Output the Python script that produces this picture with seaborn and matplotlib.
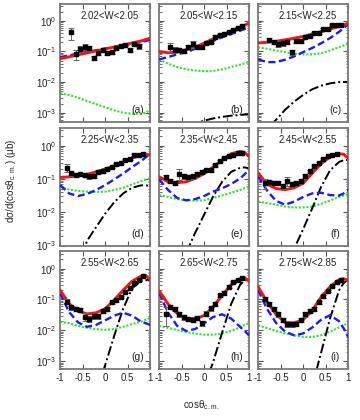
import numpy as np
import pandas as pd
import seaborn as sns
import matplotlib.pyplot as plt
from matplotlib.ticker import LogLocator, NullFormatter

# W bins and panel tags
W_LABELS = ["2.02<W<2.05", "2.05<W<2.15", "2.15<W<2.25",
            "2.25<W<2.35", "2.35<W<2.45", "2.45<W<2.55",
            "2.55<W<2.65", "2.65<W<2.75", "2.75<W<2.85"]
TAGS = ["(a)", "(b)", "(c)", "(d)", "(e)", "(f)", "(g)", "(h)", "(i)"]

COS_GRID = [-1.0, -0.8, -0.6, -0.4, -0.2, 0.0, 0.2, 0.4, 0.6, 0.8, 0.9, 1.0]

# model curves (ub): red = full, blue = dashed, green = dotted, black = dash-dot
red_a = [0.058, 0.067, 0.078, 0.09, 0.105, 0.12, 0.14, 0.16, 0.19, 0.22, 0.245, 0.27]
blue_a = [0.065, 0.075, 0.085, 0.097, 0.11, 0.125, 0.14, 0.16, 0.18, 0.205, 0.22, 0.24]
green_a = [0.0043, 0.0038, 0.0031, 0.0024, 0.0019, 0.0015, 0.0012, 0.001, 0.00092, 0.00092, 0.001, 0.0012]
black_a = [2e-6, 4e-6, 8e-6, 1.5e-5, 2.5e-5, 4e-5, 6e-5, 8e-5, 1e-4, 1.1e-4, 1.2e-4, 1.2e-4]

red_b = [0.10, 0.091, 0.095, 0.113, 0.138, 0.186, 0.26, 0.34, 0.45, 0.61, 0.72, 0.84]
blue_b = [0.055, 0.066, 0.08, 0.095, 0.122, 0.164, 0.22, 0.29, 0.37, 0.48, 0.54, 0.61]
green_b = [0.055, 0.04, 0.031, 0.026, 0.024, 0.0226, 0.023, 0.026, 0.031, 0.037, 0.041, 0.045]
black_b = [1e-4, 1.6e-4, 2.5e-4, 3.5e-4, 4.5e-4, 5.5e-4, 6.5e-4, 7.3e-4, 8e-4, 8.5e-4, 8.7e-4, 8.8e-4]

red_c = [0.19, 0.2, 0.215, 0.24, 0.27, 0.31, 0.37, 0.44, 0.54, 0.66, 0.74, 0.82]
blue_c = [0.055, 0.045, 0.045, 0.054, 0.069, 0.095, 0.13, 0.185, 0.275, 0.44, 0.58, 0.78]
green_c = [0.138, 0.122, 0.108, 0.095, 0.084, 0.08, 0.08, 0.088, 0.108, 0.138, 0.157, 0.177]
black_c = [1.5e-4, 3e-4, 5.9e-4, 1.25e-3, 2.3e-3, 3.8e-3, 5.8e-3, 7.6e-3, 9.1e-3, 0.01, 0.0101, 0.0102]

red_d = [0.112, 0.117, 0.126, 0.14, 0.165, 0.2, 0.25, 0.33, 0.43, 0.52, 0.54, 0.55]
blue_d = [0.066, 0.037, 0.031, 0.036, 0.047, 0.066, 0.098, 0.147, 0.23, 0.35, 0.45, 0.58]
green_d = [0.059, 0.049, 0.044, 0.042, 0.041, 0.042, 0.047, 0.055, 0.069, 0.087, 0.096, 0.105]
black_d = [5e-6, 4e-5, 2.5e-4, 1.4e-3, 3.6e-3, 9.1e-3, 0.02, 0.037, 0.055, 0.065, 0.065, 0.062]

red_e = [0.117, 0.083, 0.078, 0.083, 0.105, 0.147, 0.23, 0.38, 0.58, 0.68, 0.63, 0.48]
blue_e = [0.098, 0.047, 0.027, 0.023, 0.025, 0.031, 0.042, 0.053, 0.071, 0.105, 0.14, 0.19]
green_e = [0.033, 0.029, 0.025, 0.023, 0.0225, 0.023, 0.027, 0.032, 0.039, 0.047, 0.053, 0.059]
black_e = [2e-6, 2e-5, 1e-4, 6e-4, 2.4e-3, 8.5e-3, 0.03, 0.083, 0.165, 0.22, 0.225, 0.21]

red_f = [0.154, 0.07, 0.052, 0.048, 0.055, 0.075, 0.15, 0.29, 0.47, 0.58, 0.56, 0.43]
blue_f = [0.12, 0.045, 0.022, 0.017, 0.021, 0.029, 0.037, 0.039, 0.033, 0.032, 0.037, 0.047]
green_f = [0.021, 0.019, 0.017, 0.015, 0.014, 0.014, 0.015, 0.018, 0.023, 0.029, 0.032, 0.036]
black_f = [5e-6, 2e-5, 6e-5, 2e-4, 8e-4, 3.1e-3, 0.013, 0.059, 0.185, 0.33, 0.37, 0.38]

red_g = [0.2, 0.073, 0.042, 0.034, 0.037, 0.05, 0.095, 0.2, 0.39, 0.57, 0.6, 0.44]
blue_g = [0.158, 0.039, 0.018, 0.013, 0.015, 0.021, 0.030, 0.037, 0.03, 0.019, 0.017, 0.015]
green_g = [0.019, 0.017, 0.014, 0.012, 0.011, 0.0103, 0.011, 0.013, 0.016, 0.019, 0.022, 0.025]
black_g = [1e-7, 1e-6, 5e-6, 2e-5, 1e-4, 7.4e-4, 6.5e-3, 0.05, 0.23, 0.4, 0.42, 0.44]

red_h = [0.19, 0.071, 0.035, 0.024, 0.0235, 0.030, 0.058, 0.136, 0.3, 0.46, 0.51, 0.38]
blue_h = [0.163, 0.037, 0.014, 0.0095, 0.011, 0.017, 0.027, 0.033, 0.024, 0.013, 0.0095, 0.0069]
green_h = [0.014, 0.012, 0.0102, 0.0088, 0.0078, 0.0072, 0.0072, 0.0079, 0.0095, 0.0125, 0.0148, 0.017]
black_h = [1e-7, 5e-7, 2e-6, 8e-6, 3e-5, 1.5e-4, 9.3e-4, 8.5e-3, 0.071, 0.3, 0.41, 0.46]

red_i = [0.26, 0.081, 0.033, 0.018, 0.0173, 0.022, 0.043, 0.12, 0.26, 0.44, 0.47, 0.41]
blue_i = [0.2, 0.049, 0.0173, 0.0091, 0.0069, 0.0079, 0.0123, 0.022, 0.031, 0.0196, 0.0117, 0.0061]
green_i = [0.0144, 0.0118, 0.0095, 0.008, 0.0069, 0.0061, 0.0061, 0.0069, 0.0091, 0.0123, 0.0145, 0.0173]
black_i = [1e-8, 1e-7, 5e-7, 3e-6, 2e-5, 1e-5, 1.5e-4, 1.9e-3, 0.025, 0.2, 0.34, 0.44]

# measured points: bin centres, cross sections and errors
BINS = [-0.85, -0.75, -0.65, -0.55, -0.45, -0.35, -0.25, -0.15, -0.05,
        0.05, 0.15, 0.25, 0.35, 0.45, 0.55, 0.65, 0.75, 0.85]

x_a = BINS[1:17]
y_a = [0.42, 0.084, 0.122, 0.145, 0.128, 0.061, 0.091, 0.108, 0.091, 0.095, 0.131, 0.156, 0.168, 0.113, 0.177, 0.149]
e_a = [0.18, 0.03, 0.025, 0.03, 0.025, 0.01, 0.015, 0.015, 0.012, 0.012, 0.015, 0.015, 0.015, 0.015, 0.02, 0.025]

x_b = BINS[1:]
y_b = [0.145, 0.116, 0.113, 0.103, 0.138, 0.177, 0.138, 0.145, 0.186, 0.21, 0.305, 0.345, 0.37, 0.44, 0.5, 0.58, 0.67]
e_b = [0.05, 0.02, 0.015, 0.015, 0.02, 0.05, 0.02, 0.02, 0.02, 0.02, 0.03, 0.03, 0.03, 0.03, 0.04, 0.04, 0.05]

x_c = BINS[1:]
y_c = [0.24, 0.20, 0.177, 0.186, 0.2, 0.095, 0.226, 0.215, 0.305, 0.33, 0.40, 0.40, 0.54, 0.54, 0.74, 0.74, 0.74]
e_c = [0.03, 0.03, 0.04, 0.03, 0.03, 0.02, 0.03, 0.03, 0.03, 0.03, 0.04, 0.04, 0.04, 0.04, 0.05, 0.05, 0.05]

x_d = BINS
y_d = [0.222, 0.148, 0.131, 0.14, 0.131, 0.123, 0.126, 0.165, 0.177, 0.207, 0.232, 0.28, 0.305, 0.37, 0.41, 0.52, 0.55, 0.58]
e_d = [0.06, 0.02, 0.015, 0.015, 0.015, 0.02, 0.02, 0.02, 0.02, 0.02, 0.02, 0.025, 0.025, 0.03, 0.03, 0.04, 0.04, 0.04]

x_e = BINS
y_e = [0.117, 0.089, 0.078, 0.147, 0.123, 0.112, 0.123, 0.147, 0.165, 0.185, 0.185, 0.26, 0.35, 0.43, 0.49, 0.55, 0.6, 0.6]
e_e = [0.015, 0.012, 0.01, 0.055, 0.02, 0.02, 0.02, 0.02, 0.02, 0.02, 0.02, 0.025, 0.03, 0.03, 0.04, 0.04, 0.04, 0.04]

x_f = BINS[:17]
y_f = [0.074, 0.081, 0.078, 0.078, 0.062, 0.087, 0.069, 0.078, 0.09, 0.123, 0.17, 0.24, 0.305, 0.40, 0.48, 0.54, 0.565]
e_f = [0.025, 0.01, 0.01, 0.01, 0.01, 0.025, 0.01, 0.01, 0.012, 0.015, 0.015, 0.02, 0.025, 0.03, 0.03, 0.04, 0.04]

x_g = BINS
y_g = [0.085, 0.055, 0.049, 0.046, 0.028, 0.024, 0.029, 0.029, 0.043, 0.049, 0.081, 0.093, 0.12, 0.175, 0.24, 0.33, 0.43, 0.58]
e_g = [0.015, 0.008, 0.007, 0.006, 0.008, 0.005, 0.005, 0.005, 0.006, 0.006, 0.008, 0.01, 0.012, 0.015, 0.02, 0.025, 0.03, 0.04]

x_h = BINS
y_h = [0.035, 0.058, 0.049, 0.033, 0.027, 0.0235, 0.0224, 0.025, 0.017, 0.035, 0.051, 0.071, 0.136, 0.163, 0.26, 0.36, 0.43, 0.49]
e_h = [0.021, 0.01, 0.008, 0.006, 0.005, 0.004, 0.004, 0.004, 0.003, 0.006, 0.008, 0.01, 0.02, 0.02, 0.03, 0.03, 0.04, 0.04]

x_i = BINS
y_i = [0.105, 0.071, 0.049, 0.033, 0.022, 0.016, 0.016, 0.0163, 0.022, 0.033, 0.043, 0.049, 0.081, 0.126, 0.19, 0.27, 0.36, 0.44]
e_i = [0.015, 0.01, 0.008, 0.006, 0.004, 0.003, 0.003, 0.003, 0.004, 0.005, 0.006, 0.007, 0.01, 0.015, 0.02, 0.025, 0.03, 0.035]

REDS = [red_a, red_b, red_c, red_d, red_e, red_f, red_g, red_h, red_i]
BLUES = [blue_a, blue_b, blue_c, blue_d, blue_e, blue_f, blue_g, blue_h, blue_i]
GREENS = [green_a, green_b, green_c, green_d, green_e, green_f, green_g, green_h, green_i]
BLACKS = [black_a, black_b, black_c, black_d, black_e, black_f, black_g, black_h, black_i]
XS = [x_a, x_b, x_c, x_d, x_e, x_f, x_g, x_h, x_i]
YS = [y_a, y_b, y_c, y_d, y_e, y_f, y_g, y_h, y_i]
ES = [e_a, e_b, e_c, e_d, e_e, e_f, e_g, e_h, e_i]
YLIMS = [(5e-4, 3.5), (1e-3, 3.5), (5.5e-4, 3.6)]

sns.set_theme(style="ticks")
plt.rcParams['font.family'] = ['Liberation Sans', 'DejaVu Sans']
plt.rcParams['mathtext.default'] = 'regular'

fig, axes = plt.subplots(3, 3, figsize=(3.6, 4.2), dpi=100, sharex=True)
fig.subplots_adjust(left=0.167, right=0.967, top=0.99, bottom=0.121, wspace=0.1, hspace=0.05)

for k, ax in enumerate(axes.flat):
    row, col = divmod(k, 3)
    ax.set_yscale('log')

    curves = pd.DataFrame({'cos': COS_GRID, 'red': REDS[k], 'blue': BLUES[k],
                           'green': GREENS[k], 'black': BLACKS[k]})
    sns.lineplot(data=curves, x='cos', y='green', ax=ax, color='#22ee22', lw=1.5,
                 linestyle=(0, (1, 0.8)), zorder=2)
    sns.lineplot(data=curves, x='cos', y='black', ax=ax, color='black', lw=1.4,
                 linestyle=(0, (5, 1.5, 1, 1.5)), zorder=2)
    sns.lineplot(data=curves, x='cos', y='blue', ax=ax, color='#1a1aff', lw=1.7,
                 linestyle=(0, (3, 1.5)), zorder=3)
    sns.lineplot(data=curves, x='cos', y='red', ax=ax, color='#ff1010', lw=2.1, zorder=4)

    ax.errorbar(XS[k], YS[k], yerr=ES[k], fmt='s', ms=2.4, color='black',
                ecolor='#666666', elinewidth=0.7, capsize=2, capthick=0.7, zorder=5)

    ax.set_xlim(-1, 1)
    ax.set_ylim(*YLIMS[row])
    ax.set_xlabel('')
    ax.set_ylabel('')
    ax.set_xticks([-1, -0.5, 0, 0.5, 1])
    ax.set_xticklabels(['-1', '-0.5', '0', '0.5', '1'])
    ax.yaxis.set_major_locator(LogLocator(base=10, numticks=10))
    ax.yaxis.set_minor_locator(LogLocator(base=10, subs=np.arange(2, 10), numticks=20))
    ax.yaxis.set_minor_formatter(NullFormatter())
    ax.tick_params(which='both', direction='in', top=True, right=True,
                   colors='#555555', labelcolor='#222222', labelsize=7)
    ax.tick_params(which='major', length=3.5, width=0.8, pad=3)
    ax.tick_params(which='minor', length=1.8, width=0.6)
    if col > 0:
        ax.tick_params(labelleft=False)
    for sp in ax.spines.values():
        sp.set_color('#7a7a7a')
        sp.set_linewidth(1.3)

    ax.text(0.55, 0.9, W_LABELS[k], transform=ax.transAxes, ha='center', va='center',
            fontsize=7, color='#222222')
    ax.text(0.86, 0.1, TAGS[k], transform=ax.transAxes, ha='center', va='center',
            fontsize=7.5, color='#222222')

fig.text(0.03, 0.57, r'dσ/d(cosθ$_{c.m.}$) (μb)', rotation=90, ha='center', va='center',
         fontsize=7, color='#222222')
fig.text(0.56, 0.035, r'cosθ$_{c.m.}$', ha='center', va='center', fontsize=7, color='#222222')

fig.savefig('out.png', dpi=100)
